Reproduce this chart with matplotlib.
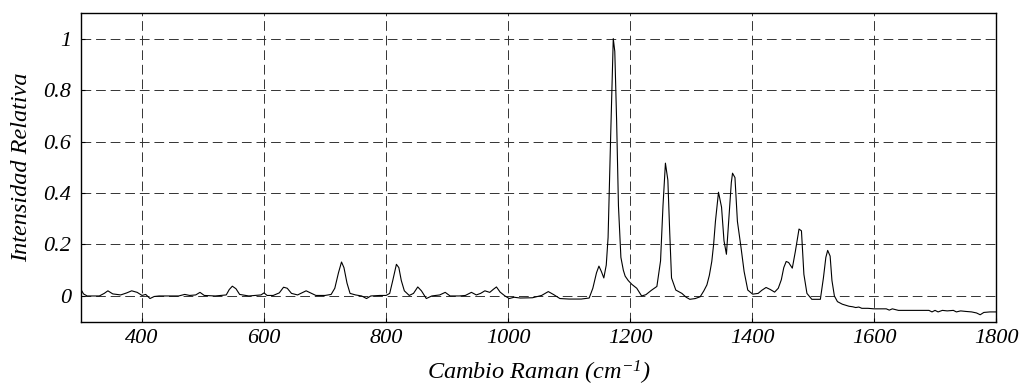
import matplotlib
matplotlib.use("Agg")
import matplotlib.pyplot as plt

# Raman shift (cm^-1) and relative intensity
shift = [300, 304, 310, 330, 338, 344, 352, 365, 375, 383, 392, 400, 406, 413, 420, 428,
         460, 470, 478, 488, 495, 502, 520, 538, 543, 548, 554, 560, 575, 595, 600, 605,
         615, 625, 632, 638, 645, 655, 662, 669, 676, 685, 700, 710, 716, 722, 727, 731,
         736, 741, 750, 760, 768, 775, 790, 800, 806, 811, 817, 821, 825, 830, 838, 845,
         852, 858, 866, 875, 888, 897, 905, 920, 930, 940, 948, 955, 962, 970, 976, 981,
         987, 995, 1002, 1010, 1020, 1040, 1055, 1066, 1075, 1085, 1100, 1120, 1133, 1139,
         1145, 1149, 1153, 1157, 1161, 1164, 1168, 1172.5, 1175, 1178, 1181, 1185, 1189,
         1192, 1197, 1203, 1211, 1219, 1226, 1235, 1244, 1250, 1254, 1258, 1262, 1265,
         1268, 1275, 1285, 1292, 1298, 1307, 1315, 1321, 1326, 1330, 1334, 1337, 1340,
         1345, 1350, 1354, 1358, 1362, 1366, 1368, 1372, 1376, 1382, 1387, 1393, 1401,
         1410, 1416, 1423, 1430, 1437, 1443, 1448, 1452, 1456, 1460, 1466, 1471, 1475,
         1477, 1481, 1485, 1490, 1498, 1512, 1517, 1521, 1524, 1528, 1531, 1535, 1540,
         1548, 1559, 1565, 1570, 1575, 1580, 1590, 1600, 1620, 1625, 1630, 1640, 1660,
         1690, 1695, 1700, 1705, 1712, 1720, 1730, 1735, 1742, 1750, 1760, 1768, 1774,
         1780, 1790, 1800]
intensity = [0.025, 0.008, 0.0, 0.0, 0.01, 0.02, 0.008, 0.004, 0.012, 0.02, 0.014, 0.002,
             0.006, -0.01, -0.002, 0.0, 0.0, 0.006, 0.002, 0.004, 0.014, 0.002, 0.0, 0.004,
             0.025, 0.038, 0.028, 0.006, 0.0, 0.004, 0.012, 0.002, 0.002, 0.012, 0.034, 0.03,
             0.01, 0.004, 0.012, 0.02, 0.012, 0.002, 0.002, 0.006, 0.03, 0.09, 0.132, 0.11,
             0.05, 0.01, 0.004, 0.0, -0.01, 0.0, 0.002, 0.002, 0.01, 0.06, 0.123, 0.11, 0.06,
             0.02, 0.002, 0.01, 0.035, 0.02, -0.01, 0.0, 0.004, 0.014, 0.0, 0.0, 0.002, 0.014,
             0.004, 0.01, 0.02, 0.014, 0.026, 0.035, 0.015, 0.0, -0.01, -0.005, -0.008,
             -0.007, 0.002, 0.017, 0.005, -0.01, -0.012, -0.012, -0.008, 0.03, 0.09, 0.116,
             0.095, 0.07, 0.12, 0.227, 0.6, 1.0, 0.95, 0.68, 0.35, 0.15, 0.1, 0.077, 0.06,
             0.045, 0.03, 0.0, 0.005, 0.022, 0.037, 0.136, 0.35, 0.516, 0.45, 0.25, 0.07,
             0.023, 0.01, -0.005, -0.013, -0.01, -0.003, 0.02, 0.043, 0.08, 0.134, 0.2, 0.29,
             0.403, 0.345, 0.215, 0.162, 0.3, 0.44, 0.477, 0.46, 0.29, 0.187, 0.095, 0.023,
             0.007, 0.01, 0.022, 0.033, 0.025, 0.015, 0.03, 0.063, 0.11, 0.134, 0.13, 0.108,
             0.173, 0.23, 0.26, 0.253, 0.084, 0.01, -0.013, -0.013, 0.07, 0.15, 0.177, 0.155,
             0.06, 0.0, -0.022, -0.032, -0.04, -0.042, -0.045, -0.043, -0.048, -0.048, -0.05,
             -0.05, -0.055, -0.05, -0.056, -0.056, -0.056, -0.062, -0.056, -0.062, -0.056,
             -0.058, -0.056, -0.062, -0.058, -0.06, -0.062, -0.066, -0.073, -0.064, -0.062,
             -0.062]

xticks = [400, 600, 800, 1000, 1200, 1400, 1600, 1800]
yticks = [0, 0.2, 0.4, 0.6, 0.8, 1]
ytick_labels = ['0', '0.2', '0.4', '0.6', '0.8', '1']

plt.rcParams['font.family'] = ['Liberation Serif', 'DejaVu Serif']
plt.rcParams['font.style'] = 'italic'
plt.rcParams['mathtext.fontset'] = 'custom'
plt.rcParams['mathtext.it'] = 'Liberation Serif:italic'
plt.rcParams['mathtext.rm'] = 'Liberation Serif:italic'
plt.rcParams['mathtext.default'] = 'it'
plt.rcParams['lines.scale_dashes'] = False

fig = plt.figure(figsize=(10.22, 3.89), dpi=100)
ax = fig.add_axes([0.0793, 0.173, 0.8953, 0.794])

ax.plot(shift, intensity, color='black', linewidth=0.8)

ax.set_xlim(300, 1800)
ax.set_ylim(-0.1, 1.1)
ax.set_xticks(xticks)
ax.set_yticks(yticks)
ax.set_yticklabels(ytick_labels)
ax.tick_params(direction='in', length=3, labelsize=16, pad=7)
ax.tick_params(axis='x', pad=5)
ax.grid(True, color='0.2', linestyle=(0, (7, 3.5)), linewidth=0.7)

for s in ax.spines.values():
    s.set_linewidth(1.0)

ax.set_xlabel('Cambio Raman (cm$^{-1}$)', fontsize=17.5, labelpad=8)
ax.set_ylabel('Intensidad Relativa', fontsize=17.5, labelpad=8)

fig.savefig('out.png', dpi=100)
